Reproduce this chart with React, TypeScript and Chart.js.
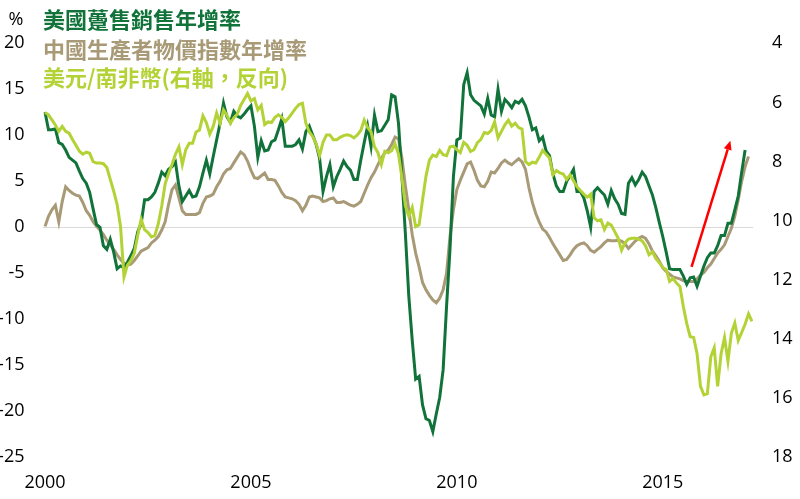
import React, { useEffect, useRef } from 'react';
import { Chart, registerables } from 'chart.js';

Chart.register(...registerables);

const START_YEAR = 2000;
const yearTicks = [2000, 2005, 2010, 2015];
const leftTickRange = [-25, 20, 5];
const rightTickRange = [4, 18, 2];

// 美國躉售銷售年增率 (%), monthly from Jan 2000
const usWholesale = [
  12.5, 10.6, 10.6, 10.7, 9.2, 9.0, 8.4, 7.6, 7.3, 7.0,
  6.1, 5.3, 4.8, 3.8, 2.0, 0.3, 0.0, -2.0, -2.4, -1.3,
  -2.7, -4.5, -4.2, -4.4, -3.8, -3.1, -2.3, -0.5, 0.4, 3.0,
  3.0, 3.3, 3.8, 4.8, 6.0, 5.6, 6.3, 6.6, 7.1, 4.5,
  2.8, 3.4, 4.0, 3.3, 3.4, 4.4, 5.9, 7.3, 5.8, 7.7,
  9.5, 11.3, 13.5, 12.0, 11.4, 12.6, 12.1, 11.9, 12.3, 12.8,
  13.2, 11.0, 7.6, 9.4, 8.3, 8.4, 9.3, 9.5, 10.6, 11.8,
  8.8, 8.8, 8.8, 9.0, 9.5, 8.5, 10.4, 11.0, 10.0, 9.0,
  7.5, 3.9, 5.5, 6.8, 4.4, 5.5, 6.3, 7.2, 6.6, 6.2,
  5.2, 5.2, 7.3, 9.2, 11.0, 8.8, 12.2, 10.4, 10.5, 11.1,
  11.7, 14.4, 14.2, 11.3, 5.5, -0.7, -7.5, -12.3, -16.5, -16.2,
  -19.3, -20.8, -21.0, -22.2, -20.3, -18.5, -15.5, -8.6, -2.4, 5.5,
  9.5, 9.7, 15.5, 16.8, 14.4, 13.8, 13.5, 13.2, 12.3, 14.0,
  12.2, 12.0, 15.0, 12.6, 13.9, 13.5, 13.0, 13.7, 13.5, 13.9,
  13.2, 12.0, 10.6, 10.8, 9.4, 9.8, 8.3, 7.8, 5.8, 4.5,
  3.9, 3.9, 5.0, 5.6, 6.3, 3.9, 3.9, 3.2, 1.8, 0.0,
  3.9, 4.3, 3.9, 3.5, 2.5, 4.0, 3.1, 2.5, 1.5, 1.4,
  4.8, 5.4, 4.6, 5.2, 6.0, 5.5, 4.5, 3.5, 2.1, 0.5,
  -1.0, -2.7, -4.5, -4.6, -4.6, -4.6, -5.3, -6.2, -5.5, -5.4,
  -6.4, -5.3, -4.2, -3.3, -2.8, -2.8, -2.0, -0.9, -0.9, 0.45,
  0.45, 1.9, 3.4, 6.0, 8.4,
];

// 中國生產者物價指數年增率 (%)
const chinaPPI = [
  0.1, 1.2, 1.9, 2.4, 0.6, 2.8, 4.4, 4.0, 3.7, 3.5,
  3.4, 2.7, 1.8, 1.3, 0.6, 0.1, -0.3, -0.8, -1.4, -1.9,
  -2.4, -3.0, -3.5, -3.9, -4.1, -4.0, -3.6, -3.1, -2.6, -2.4,
  -2.2, -1.7, -1.4, -1.0, -0.3, 0.6, 2.5, 4.1, 4.6, 3.2,
  1.8, 1.4, 1.4, 1.4, 1.4, 1.6, 2.6, 3.3, 3.4, 3.6,
  4.4, 5.0, 5.8, 6.25, 6.4, 7.0, 7.6, 8.2, 7.9, 7.2,
  6.2, 5.4, 5.3, 5.6, 5.9, 5.2, 5.2, 5.1, 4.5, 3.8,
  3.3, 3.2, 3.1, 2.9, 2.5, 1.8, 2.4, 3.3, 3.4, 3.3,
  3.2, 2.8, 2.9, 3.1, 3.2, 2.7, 2.7, 2.8, 2.6, 2.4,
  2.3, 2.5, 2.8, 3.7, 4.6, 5.4, 6.0, 6.8, 7.5, 8.1,
  8.4, 9.0, 9.8, 9.6, 7.5, 4.5, 1.9, -0.8, -2.8, -4.3,
  -6.0, -6.8, -7.4, -7.9, -8.2, -7.7, -6.8, -5.0, -1.0, 1.9,
  4.1, 5.1, 6.0, 6.9, 7.1, 6.2, 5.1, 4.5, 4.4, 5.0,
  6.0, 5.9, 6.4, 7.0, 7.3, 7.0, 6.8, 7.15, 7.45, 7.1,
  6.3, 4.3, 2.7, 1.5, 0.6, -0.2, -0.5, -1.1, -1.8, -2.4,
  -3.0, -3.6, -3.5, -3.0, -2.4, -2.0, -1.8, -1.7, -2.0, -2.5,
  -2.7, -2.4, -2.1, -1.7, -1.4, -1.45, -1.45, -1.4, -1.5, -1.8,
  -2.3, -1.9, -1.5, -1.2, -1.0, -1.2, -1.8, -2.6, -3.1, -3.7,
  -4.4, -4.8, -5.1, -5.4, -5.5, -5.6, -5.8, -5.9, -5.9, -5.9,
  -5.6, -5.2, -4.9, -4.4, -4.0, -3.4, -2.8, -2.4, -1.9, -1.0,
  -0.1, 1.2, 3.0, 5.0, 6.6, 7.7,
];

// 美元/南非幣 (右軸，反向)
const usdZar = [
  6.34, 6.42, 6.59, 6.76, 6.98, 6.81, 6.98, 7.04, 7.25, 7.45,
  7.65, 7.75, 7.68, 7.72, 8.0, 8.05, 8.05, 8.07, 8.2, 8.6,
  9.0, 9.45, 10.2, 11.9, 11.5, 11.35, 11.1, 10.5, 9.95, 10.3,
  10.4, 10.55, 10.5, 10.1, 9.5, 8.75, 8.4, 8.1, 7.75, 7.5,
  8.1, 7.6, 7.38, 7.38, 7.0, 6.93, 6.45, 6.68, 7.07, 6.81,
  6.36, 6.7, 6.25, 6.43, 6.7, 6.52, 6.4, 6.1, 5.9, 5.7,
  5.95, 5.87, 6.25, 6.1, 6.75, 6.66, 6.68, 6.5, 6.42, 6.5,
  6.65, 6.52, 6.36, 6.2, 6.07, 6.03, 6.7, 7.0, 7.15, 7.4,
  7.8, 7.35, 7.1, 7.1, 7.26, 7.26, 7.18, 7.12, 7.09, 7.12,
  7.2, 7.1, 6.95, 6.6, 6.85, 7.0, 7.5, 7.7, 8.1, 7.65,
  7.7, 7.63, 7.4, 7.75, 8.55, 9.5, 9.85, 9.55, 10.2, 10.14,
  9.3, 8.5, 7.95, 7.78, 7.83, 7.62, 7.77, 7.8, 7.5, 7.48,
  7.6, 7.7, 7.35, 7.45, 7.66, 7.6, 7.36, 7.25, 7.02, 7.05,
  6.95, 6.66, 7.2, 6.98, 6.76, 6.6, 6.8, 6.7, 6.85, 6.9,
  8.0, 8.1, 8.02, 8.05, 7.85, 7.62, 7.75, 7.88, 8.45, 8.3,
  8.38, 8.42, 8.6, 8.45, 8.65, 8.85, 8.98, 9.1, 9.2, 9.1,
  9.9, 10.0, 9.97, 10.3, 10.08, 10.15, 10.37, 10.59, 11.0, 10.75,
  10.62, 10.59, 10.59, 10.62, 10.68, 10.85, 11.15, 11.05, 11.28, 11.42,
  11.58, 11.65, 12.05, 11.95, 12.11, 12.22, 12.9, 13.48, 13.92, 13.95,
  14.5, 15.6, 15.89, 15.85, 14.6, 14.3, 15.6, 14.5, 13.95, 14.75,
  13.8, 13.46, 14.05, 13.78, 13.5, 13.15, 13.4,
];

// red arrow annotation: [month index from Jan 2000, left-axis value]
const arrowFrom = [188.4, -4.3];
const arrowTo = [199.7, 9.4];

const COLOR_US = '#11733a';
const COLOR_PPI = '#a89a76';
const COLOR_ZAR = '#b3d235';

const legendLines = [
  { text: '美國躉售銷售年增率', color: COLOR_US },
  { text: '中國生產者物價指數年增率', color: COLOR_PPI },
  { text: '美元/南非幣(右軸，反向)', color: COLOR_ZAR },
];
const unitLabel = '%';

const TICK_FONT = { family: '"Open Sans", "Liberation Sans", sans-serif', size: 18 };

const toPoints = (arr: number[]) => arr.map((v, i) => ({ x: i, y: v }));

const overlayPlugin = {
  id: 'overlay',
  afterDatasetsDraw(chart: any) {
    const { ctx, scales } = chart;
    const x = scales.x;
    const y = scales.y;
    const x1 = x.getPixelForValue(arrowFrom[0]);
    const y1 = y.getPixelForValue(arrowFrom[1]);
    const x2 = x.getPixelForValue(arrowTo[0]);
    const y2 = y.getPixelForValue(arrowTo[1]);
    const ang = Math.atan2(y2 - y1, x2 - x1);
    const head = 9;
    const hw = 4;
    const bx = x2 - head * Math.cos(ang);
    const by = y2 - head * Math.sin(ang);
    ctx.save();
    ctx.strokeStyle = '#ff0000';
    ctx.fillStyle = '#ff0000';
    ctx.lineWidth = 2.5;
    ctx.beginPath();
    ctx.moveTo(x1, y1);
    ctx.lineTo(bx, by);
    ctx.stroke();
    ctx.beginPath();
    ctx.moveTo(x2, y2);
    ctx.lineTo(bx + hw * Math.sin(ang), by - hw * Math.cos(ang));
    ctx.lineTo(bx - hw * Math.sin(ang), by + hw * Math.cos(ang));
    ctx.closePath();
    ctx.fill();
    ctx.restore();
  },
  afterDraw(chart: any) {
    const { ctx } = chart;
    ctx.save();
    ctx.textBaseline = 'middle';
    ctx.textAlign = 'center';
    ctx.fillStyle = '#000';
    ctx.font = '18px "Open Sans", "Liberation Sans", sans-serif';
    ctx.fillText(unitLabel, 16, 20);
    ctx.textAlign = 'left';
    ctx.font = 'bold 22px "Noto Sans CJK TC", "Noto Sans CJK SC", sans-serif';
    const ys = [20, 49.5, 78];
    legendLines.forEach((l, i) => {
      ctx.fillStyle = l.color;
      ctx.fillText(l.text, 43, ys[i]);
    });
    ctx.restore();
  },
};

export default function App() {
  const ref = useRef<HTMLCanvasElement>(null);
  useEffect(() => {
    if (!ref.current) return;
    const chart = new Chart(ref.current, {
      type: 'line',
      data: {
        datasets: [
          {
            label: legendLines[2].text,
            data: toPoints(usdZar),
            borderColor: COLOR_ZAR,
            backgroundColor: COLOR_ZAR,
            borderWidth: 3,
            pointRadius: 0,
            tension: 0,
            yAxisID: 'y1',
          },
          {
            label: legendLines[0].text,
            data: toPoints(usWholesale),
            borderColor: COLOR_US,
            backgroundColor: COLOR_US,
            borderWidth: 3,
            pointRadius: 0,
            tension: 0,
            yAxisID: 'y',
          },
          {
            label: legendLines[1].text,
            data: toPoints(chinaPPI),
            borderColor: COLOR_PPI,
            backgroundColor: COLOR_PPI,
            borderWidth: 3,
            pointRadius: 0,
            tension: 0,
            yAxisID: 'y',
          },
        ],
      },
      options: {
        animation: false,
        responsive: false,
        devicePixelRatio: 1,
        layout: { padding: { top: 43.3, left: 0, right: 0, bottom: 0 } },
        plugins: { legend: { display: false }, tooltip: { enabled: false } },
        scales: {
          x: {
            type: 'linear',
            min: -0.6,
            max: 206.3,
            grid: { display: false, drawTicks: false },
            border: { display: false },
            afterBuildTicks: (s: any) => {
              s.ticks = yearTicks.map((yr) => ({ value: (yr - START_YEAR) * 12 }));
            },
            afterFit: (s: any) => {
              s.height = 41.7;
            },
            ticks: {
              autoSkip: false,
              maxRotation: 0,
              padding: 15,
              color: '#000',
              font: TICK_FONT,
              callback: (v: any) => String(START_YEAR + Math.round(Number(v) / 12)),
            },
          },
          y: {
            position: 'left',
            min: leftTickRange[0],
            max: leftTickRange[1],
            afterFit: (s: any) => {
              s.width = 43;
            },
            grid: {
              drawTicks: false,
              lineWidth: 1,
              color: (c: any) => (c.tick && c.tick.value === 0 ? '#d9d9d9' : 'rgba(0,0,0,0)'),
            },
            border: { display: false },
            ticks: { stepSize: leftTickRange[2], padding: 18.5, color: '#000', font: TICK_FONT },
          },
          y1: {
            position: 'right',
            min: rightTickRange[0],
            max: rightTickRange[1],
            reverse: true,
            afterFit: (s: any) => {
              s.width = 47;
            },
            grid: { display: false, drawTicks: false },
            border: { display: false },
            ticks: { stepSize: rightTickRange[2], padding: 19, color: '#000', font: TICK_FONT },
          },
        },
      },
      plugins: [overlayPlugin],
    });
    return () => chart.destroy();
  }, []);
  return (
    <div style={{ position: 'absolute', left: 0, top: 0, width: 800, height: 499, background: '#fff' }}>
      <canvas ref={ref} width={800} height={499} style={{ display: 'block' }} />
    </div>
  );
}
